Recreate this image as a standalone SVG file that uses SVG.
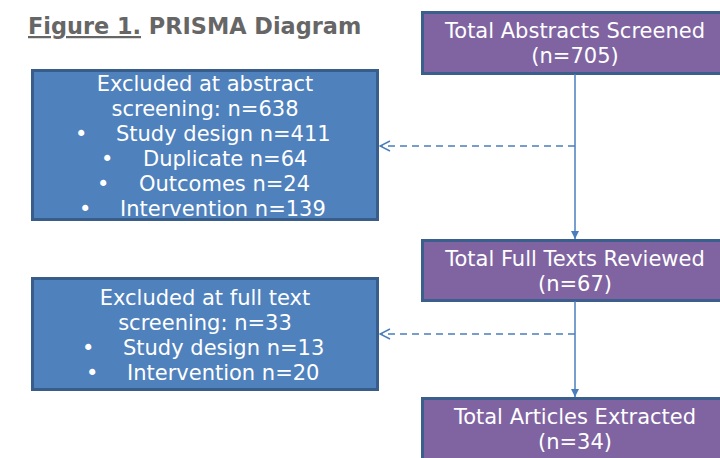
<svg xmlns="http://www.w3.org/2000/svg" width="720" height="458" viewBox="0 0 720 458">
<defs>
<style>
.t{font-family:"DejaVu Sans","Verdana",sans-serif;font-size:21px;fill:#ffffff}
.c{text-anchor:middle}
.p{fill:#8064A2;stroke:#3B5E8C;stroke-width:3}
.b{fill:#4F81BD;stroke:#385D8A;stroke-width:3}
.ln{stroke:#4A7EBB;stroke-width:1.5;fill:none}
.d{stroke-dasharray:7 5}
</style>
<marker id="ah" viewBox="0 0 10 10" refX="10" refY="5" markerWidth="8" markerHeight="8" orient="auto" markerUnits="userSpaceOnUse">
<path d="M0,0 L10,5 L0,10 z" fill="#4A7EBB"/>
</marker>
<marker id="oa" viewBox="0 0 12 12" refX="11" refY="6" markerWidth="12" markerHeight="12" orient="auto" markerUnits="userSpaceOnUse">
<path d="M1,1 L11,6 L1,11" fill="none" stroke="#4A7EBB" stroke-width="1.5"/>
</marker>
</defs>
<rect width="720" height="458" fill="#ffffff"/>
<g id="title">
<text x="28" y="34" font-family="DejaVu Sans, Verdana, sans-serif" font-size="22.4" font-weight="bold" fill="#666666"><tspan text-decoration="underline">Figure 1.</tspan> PRISMA Diagram</text>
</g>
<g id="n1">
<rect class="p" x="422.5" y="12.5" width="310" height="61"/>
<text class="t c" x="575" y="38">Total Abstracts Screened</text>
<text class="t c" x="575" y="63">(n=705)</text>
</g>
<g id="n2">
<rect class="p" x="422.5" y="240.5" width="310" height="60"/>
<text class="t c" x="575" y="266">Total Full Texts Reviewed</text>
<text class="t c" x="575" y="291">(n=67)</text>
</g>
<g id="n3">
<rect class="p" x="422.5" y="398.5" width="310" height="70"/>
<text class="t c" x="575" y="424">Total Articles Extracted</text>
<text class="t c" x="575" y="449">(n=34)</text>
</g>
<g id="ex1">
<rect class="b" x="32.5" y="70.5" width="345" height="149"/>
<text class="t c" x="205" y="91">Excluded at abstract</text>
<text class="t c" x="205" y="116">screening: n=638</text>
<text class="t" x="75" y="141">•</text><text class="t" x="116" y="141">Study design n=411</text>
<text class="t" x="101" y="166">•</text><text class="t" x="143" y="166">Duplicate n=64</text>
<text class="t" x="97" y="191">•</text><text class="t" x="139" y="191">Outcomes n=24</text>
<text class="t" x="79" y="216">•</text><text class="t" x="120" y="216">Intervention n=139</text>
</g>
<g id="ex2">
<rect class="b" x="32.5" y="278.5" width="345" height="111"/>
<text class="t c" x="205" y="305">Excluded at full text</text>
<text class="t c" x="205" y="330">screening: n=33</text>
<text class="t" x="82" y="355">•</text><text class="t" x="123" y="355">Study design n=13</text>
<text class="t" x="86" y="380">•</text><text class="t" x="127" y="380">Intervention n=20</text>
</g>
<g id="connectors">
<line class="ln" x1="575" y1="74" x2="575" y2="239" marker-end="url(#ah)"/>
<line class="ln" x1="575" y1="301" x2="575" y2="397" marker-end="url(#ah)"/>
<line class="ln d" x1="575" y1="146" x2="380" y2="146" marker-end="url(#oa)"/>
<line class="ln d" x1="575" y1="334" x2="380" y2="334" marker-end="url(#oa)"/>
</g>
</svg>
